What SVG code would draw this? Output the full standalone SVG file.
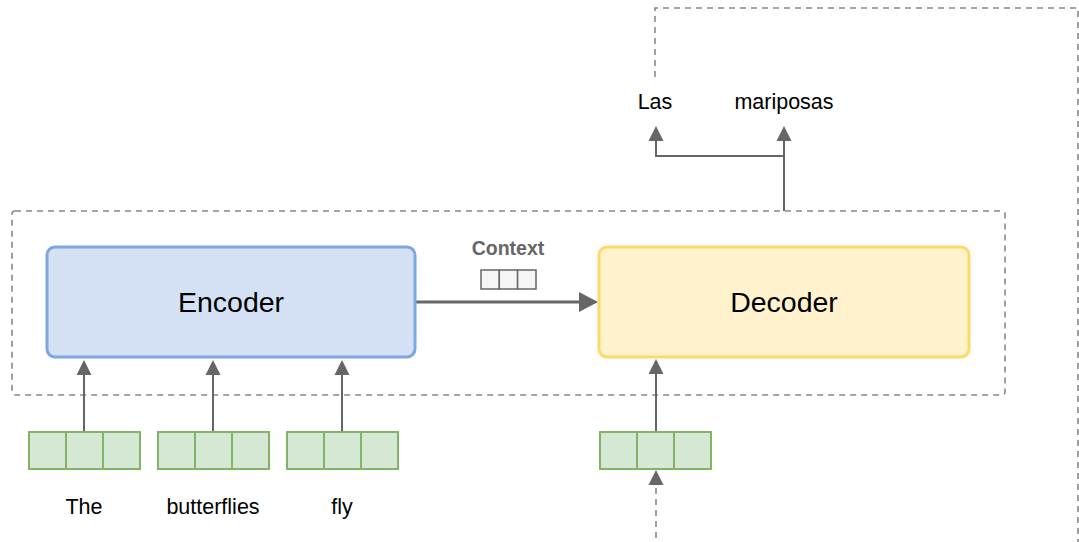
<svg xmlns="http://www.w3.org/2000/svg" width="1079" height="542" viewBox="0 0 1079 542">
  <style>
    .label { font-family: "Liberation Sans", Arial, sans-serif; fill: #000; text-anchor: middle; }
    .word { font-size: 21.5px; }
    .block { font-size: 28.5px; }
    .ctx { font-family: "Liberation Sans", Arial, sans-serif; font-weight: bold; font-size: 19.5px; fill: #666; text-anchor: middle; }
    .cell { fill: #d5e8d4; stroke: #82b366; stroke-width: 2; }
    .ctxcell { fill: #f5f5f5; stroke: #666; stroke-width: 1.5; }
    .wire { fill: none; stroke: #666; stroke-width: 2; }
    .dash { fill: none; stroke: #888; stroke-width: 1.6; stroke-dasharray: 6 5; }
    .head { fill: #666; }
  </style>

  <rect width="1079" height="542" fill="#ffffff"/>

  <!-- model frame around encoder and decoder -->
  <g id="frame">
    <rect class="dash" x="12" y="211" width="993" height="184" rx="3"/>
  </g>

  <g id="connectors">
    <!-- feedback loop from output back to decoder input -->
    <path class="dash" d="M655 77 V8 H1078 V560"/>
    <path class="dash" d="M656 560 V484"/>
    <polygon class="head" points="656,470 648.5,485 663.5,485"/>

    <!-- encoder to decoder -->
    <path d="M416 302 H581" fill="none" stroke="#666" stroke-width="3"/>
    <polygon class="head" points="598,302 579,292 579,312"/>

    <!-- inputs to encoder -->
    <path class="wire" d="M84 432 V374"/>
    <polygon class="head" points="84,360 76.5,375 91.5,375"/>
    <path class="wire" d="M213 432 V374"/>
    <polygon class="head" points="213,360 205.5,375 220.5,375"/>
    <path class="wire" d="M342 432 V374"/>
    <polygon class="head" points="342,360 334.5,375 349.5,375"/>

    <!-- input to decoder -->
    <path class="wire" d="M656 432 V373"/>
    <polygon class="head" points="656,359 648.5,374 663.5,374"/>

    <!-- decoder outputs -->
    <path class="wire" d="M784 211 V140"/>
    <polygon class="head" points="784,126 776.5,141 791.5,141"/>
    <path class="wire" d="M784 156 H656 V140"/>
    <polygon class="head" points="656,126 648.5,141 663.5,141"/>
  </g>

  <g id="encoder">
    <rect x="47" y="247" width="368" height="110" rx="8" fill="#d4e1f5" stroke="#7ea6e0" stroke-width="3"/>
    <text class="label block" x="231" y="312">Encoder</text>
  </g>

  <g id="decoder">
    <rect x="599" y="247" width="370" height="110" rx="8" fill="#fff2cc" stroke="#ffd966" stroke-width="3"/>
    <text class="label block" x="784" y="312">Decoder</text>
  </g>

  <g id="context">
    <text class="ctx" x="508" y="255">Context</text>
    <rect class="ctxcell" x="481" y="270" width="18.3" height="19"/>
    <rect class="ctxcell" x="499.3" y="270" width="18.3" height="19"/>
    <rect class="ctxcell" x="517.6" y="270" width="18.4" height="19"/>
  </g>

  <g id="emb-the">
    <rect class="cell" x="29" y="432" width="37" height="37"/>
    <rect class="cell" x="66" y="432" width="37" height="37"/>
    <rect class="cell" x="103" y="432" width="37" height="37"/>
  </g>
  <g id="emb-butterflies">
    <rect class="cell" x="158" y="432" width="37" height="37"/>
    <rect class="cell" x="195" y="432" width="37" height="37"/>
    <rect class="cell" x="232" y="432" width="37" height="37"/>
  </g>
  <g id="emb-fly">
    <rect class="cell" x="287" y="432" width="37" height="37"/>
    <rect class="cell" x="324" y="432" width="37" height="37"/>
    <rect class="cell" x="361" y="432" width="37" height="37"/>
  </g>
  <g id="emb-decoder">
    <rect class="cell" x="600" y="432" width="37" height="37"/>
    <rect class="cell" x="637" y="432" width="37" height="37"/>
    <rect class="cell" x="674" y="432" width="37" height="37"/>
  </g>

  <g id="word-the"><text class="label word" x="84" y="514">The</text></g>
  <g id="word-butterflies"><text class="label word" x="213" y="514">butterflies</text></g>
  <g id="word-fly"><text class="label word" x="342" y="514">fly</text></g>
  <g id="word-las"><text class="label word" x="655" y="109">Las</text></g>
  <g id="word-mariposas"><text class="label word" x="784" y="109">mariposas</text></g>
</svg>
